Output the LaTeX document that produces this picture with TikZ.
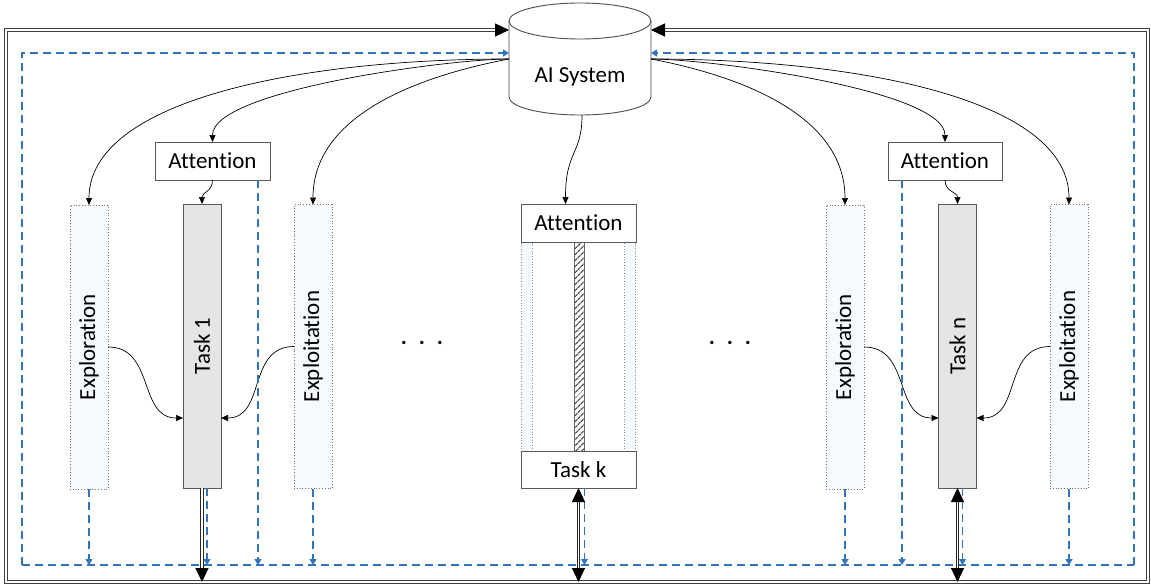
\documentclass[tikz,border=0pt]{standalone}
\usepackage{fontspec}
\setmainfont{Carlito}[Ligatures={NoCommon}]
\usepackage{graphicx}
\usetikzlibrary{arrows.meta,patterns,patterns.meta}
\definecolor{dblue}{RGB}{50,115,188}
\definecolor{expfill}{RGB}{245,250,255}
\definecolor{taskfill}{RGB}{229,229,229}
\tikzset{bigtip/.tip={Triangle[length=14pt,width=13pt,color=black]}}
\begin{document}
\begin{tikzpicture}[x=1pt,y=-1pt,
  font=\fontsize{23}{27}\selectfont,
  every node/.style={inner sep=0pt, outer sep=0pt},
  expbox/.style={draw=black!55, dotted, line width=0.8pt, fill=expfill, minimum width=38pt, minimum height=284pt},
  taskbox/.style={draw=black!65, line width=0.9pt, fill=taskfill, minimum width=38pt, minimum height=284pt},
  attbox/.style={draw=black!65, line width=0.9pt, fill=white, minimum width=115pt, minimum height=38pt},
  sidebar/.style={draw=black!45, dotted, line width=0.7pt, fill=expfill, minimum width=11pt, minimum height=209pt},
  cyl/.style={draw=black!70, line width=0.9pt},
  curve/.style={draw=black, line width=0.7pt, -{Triangle[length=7pt,width=6pt]}},
  bluedash/.style={draw=dblue, line width=1.4pt, dash pattern=on 8pt off 5pt},
  bluearr/.style={bluedash, -{Triangle[length=6pt,width=7pt]}},
  frameline/.style={draw=black!75, line width=1.2pt, double=white, double distance=2pt},
  vdbl/.style={draw=black!85, line width=1pt, double=white, double distance=1.6pt},
]
\useasboundingbox (0,0) rectangle (1151,586);

% frame / loop corner coordinates
\coordinate (fTL) at (6,30);
\coordinate (fBL) at (6,582);
\coordinate (fBR) at (1148,582);
\coordinate (fTR) at (1148,30);
\coordinate (dTL) at (22,53);
\coordinate (dBL) at (22,565);
\coordinate (dBR) at (1134,565);
\coordinate (dTR) at (1134,53);

% AI system cylinder
\draw[cyl, fill=white] (509,21) -- (509,97) arc[start angle=180, end angle=0, x radius=71, y radius=18] -- (651,21);
\draw[cyl, fill=white] (580,21) ellipse[x radius=71, y radius=18];
\node[minimum width=142pt, minimum height=112pt, text height=50pt, text depth=4pt] (ai) at (580,59) {AI System};

% left group
\node[expbox] (exp1) at (89,347) {\rotatebox{90}{Exploration}};
\node[taskbox] (task1) at (202,346) {\rotatebox{90}{Task 1}};
\node[attbox] (att1) at (212.5,161) {Attention};
\node[expbox] (expl1) at (313,346.5) {\rotatebox{90}{Exploitation}};

% middle group
\node[sidebar] (skl) at (526.5,346.5) {};
\node[sidebar] (skr) at (630,346.5) {};
\node[draw=black!60, line width=0.8pt, pattern={Lines[angle=45,distance=4pt,line width=1.3pt]}, pattern color=black!70, minimum width=10pt, minimum height=209pt] (hatch) at (579,346.5) {};
\node[attbox] (attk) at (578.5,223) {Attention};
\node[attbox, minimum height=37pt] (taskk) at (578.5,469.5) {Task k};

% right group
\node[expbox] (expn) at (845,347) {\rotatebox{90}{Exploration}};
\node[attbox, minimum width=114pt] (attn) at (945,161) {Attention};
\node[taskbox] (taskn) at (957.5,346) {\rotatebox{90}{Task n}};
\node[expbox] (expln) at (1069,346.5) {\rotatebox{90}{Exploitation}};

% dots
\node (dots1) at (422,343) {\bfseries\makebox[18pt]{.}\makebox[18pt]{.}\makebox[18pt]{.}};
\node (dots2) at (730,343) {\bfseries\makebox[18pt]{.}\makebox[18pt]{.}\makebox[18pt]{.}};

% curves from AI system
\draw[curve] (ai.west) .. controls +(-209,0) and +(0,-105) .. (exp1.north);
\draw[curve] (ai.west) .. controls +(-59,0) and +(0,-52) .. (att1.north);
\draw[curve] (ai.west) .. controls +(-79,15) and +(0,-94) .. (expl1.north);
\draw[curve] ([xshift=2pt]ai.south) .. controls +(0,40) and +(0,-54) .. ([xshift=-13pt]attk.north);
\draw[curve] (ai.east) .. controls +(209,0) and +(0,-105) .. (expln.north);
\draw[curve] (ai.east) .. controls +(59,0) and +(0,-52) .. (attn.north);
\draw[curve] (ai.east) .. controls +(79,15) and +(0,-94) .. (expn.north);

% attention -> task
\draw[curve] (att1.south) .. controls +(0,12) and +(0,-12) .. (task1.north);
\draw[curve] (attn.south) .. controls +(0,12) and +(0,-12) .. (taskn.north);

% exploration / exploitation -> task
\draw[curve] (exp1.east) .. controls +(47,0) and +(-45,0) .. ([yshift=-72pt]task1.west);
\draw[curve] (expl1.west) .. controls +(-47,0) and +(45,0) .. ([yshift=-72pt]task1.east);
\draw[curve] (expn.east) .. controls +(47,0) and +(-45,0) .. ([yshift=-72pt]taskn.west);
\draw[curve] (expln.west) .. controls +(-47,0) and +(45,0) .. ([yshift=-72pt]taskn.east);

% blue dashed feedback
\coordinate (t1d) at ([xshift=5pt]task1.south);
\coordinate (a1d) at ([xshift=-12pt]att1.south east);
\coordinate (tkd) at ([xshift=6pt]taskk.south);
\coordinate (and) at ([xshift=14pt]attn.south west);
\coordinate (tnd) at ([xshift=5pt]taskn.south);
\draw[bluedash] (dBL) -- (dBR);
\draw[bluearr] (dBL) -- (dTL) -- (ai.west |- dTL);
\draw[bluearr] (dBR) -- (dTR) -- (ai.east |- dTR);
\draw[bluearr] (exp1.south) -- (exp1.south |- dBL);
\draw[bluearr] (t1d) -- (t1d |- dBL);
\draw[bluearr] (a1d) -- (a1d |- dBL);
\draw[bluearr] (expl1.south) -- (expl1.south |- dBL);
\draw[bluearr] (tkd) -- (tkd |- dBL);
\draw[bluearr] (and) -- (and |- dBL);
\draw[bluearr] (expn.south) -- (expn.south |- dBL);
\draw[bluearr] (tnd) -- (tnd |- dBL);
\draw[bluearr] (expln.south) -- (expln.south |- dBL);

% black double frame and task links
\draw[frameline, {bigtip}-{bigtip}] (ai.west |- fTL) -- (fTL) -- (fBL) -- (fBR) -- (fTR) -- (ai.east |- fTR);
\draw[vdbl, -{bigtip}] (task1.south) -- (task1.south |- fBL);
\draw[vdbl, {bigtip}-{bigtip}] (taskk.south) -- (taskk.south |- fBL);
\draw[vdbl, {bigtip}-{bigtip}] (taskn.south) -- (taskn.south |- fBL);
\end{tikzpicture}
\end{document}
